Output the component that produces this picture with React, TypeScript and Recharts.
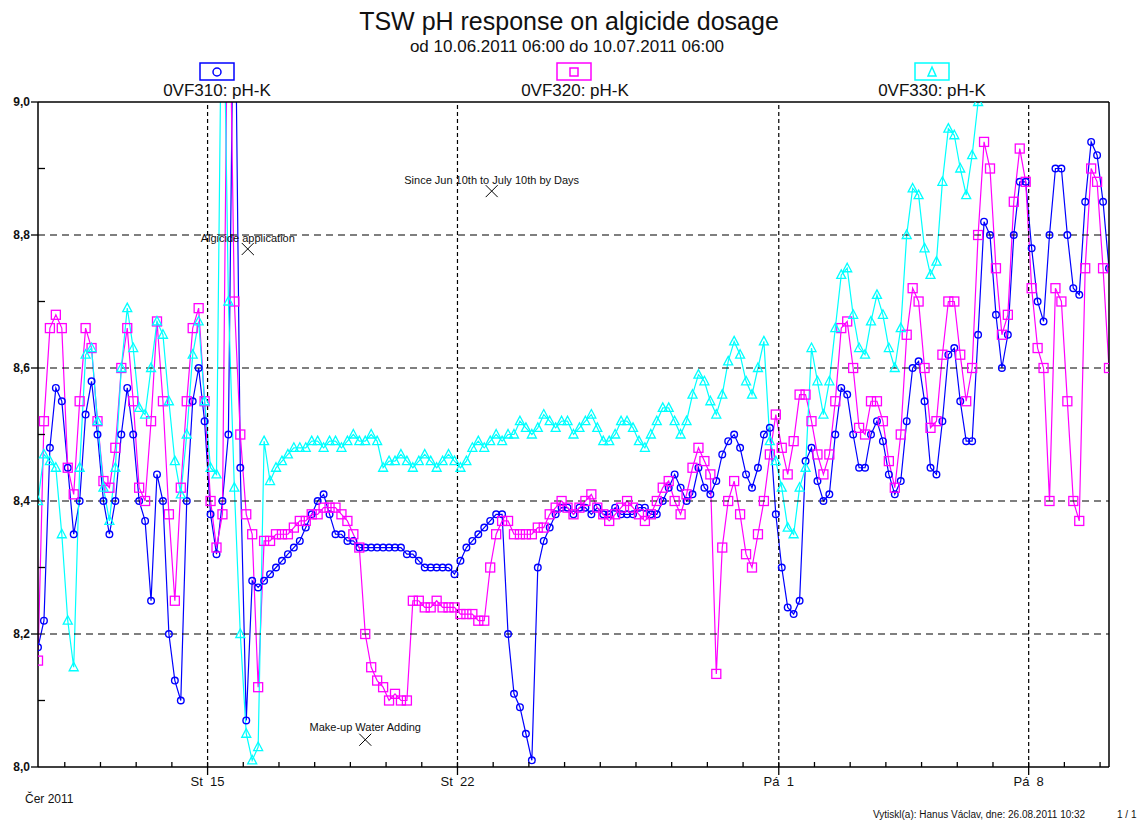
import React from "react";
import { LineChart, Line, XAxis, YAxis, ReferenceLine, ReferenceDot } from "recharts";

// samples every 4 hours from 10.06.2011 06:00 (hour 0) to 10.07.2011 06:00 (hour 720)
const blueSeries = [
  8.18, 8.22, 8.48, 8.57, 8.55, 8.45, 8.35, 8.40, 8.53, 8.58,
  8.50, 8.40, 8.35, 8.40, 8.50, 8.57, 8.50, 8.40, 8.37, 8.25,
  8.44, 8.40, 8.20, 8.13, 8.10, 8.40, 8.55, 8.60, 8.52, 8.38,
  8.32, 8.40, 8.50, 9.30, 8.45, 8.07, 8.28, 8.27, 8.28, 8.29,
  8.30, 8.31, 8.32, 8.33, 8.34, 8.36, 8.38, 8.40, 8.41, 8.38,
  8.35, 8.35, 8.34, 8.34, 8.33, 8.33, 8.33, 8.33, 8.33, 8.33,
  8.33, 8.33, 8.32, 8.32, 8.31, 8.30, 8.30, 8.30, 8.30, 8.30,
  8.29, 8.31, 8.33, 8.34, 8.35, 8.36, 8.37, 8.38, 8.38, 8.20,
  8.11, 8.09, 8.05, 8.01, 8.30, 8.34, 8.36, 8.38, 8.39, 8.39,
  8.38, 8.39, 8.39, 8.38, 8.39, 8.38, 8.38, 8.39, 8.38, 8.38,
  8.38, 8.39, 8.39, 8.38, 8.38, 8.40, 8.42, 8.44, 8.42, 8.40,
  8.41, 8.45, 8.42, 8.41, 8.43, 8.47, 8.49, 8.50, 8.48, 8.44,
  8.42, 8.45, 8.50, 8.51, 8.38, 8.30, 8.24, 8.23, 8.25, 8.46,
  8.48, 8.43, 8.40, 8.41, 8.50, 8.57, 8.56, 8.50, 8.45, 8.45,
  8.50, 8.52, 8.49, 8.44, 8.41, 8.43, 8.52, 8.60, 8.61, 8.55,
  8.45, 8.44, 8.52, 8.62, 8.63, 8.55, 8.49, 8.49, 8.65, 8.82,
  8.80, 8.68, 8.60, 8.65, 8.80, 8.88, 8.88, 8.78, 8.70, 8.67,
  8.80, 8.90, 8.90, 8.80, 8.72, 8.71, 8.85, 8.94, 8.92, 8.85,
  8.75,
];

const magentaSeries = [
  8.16, 8.52, 8.66, 8.68, 8.66, 8.45, 8.41, 8.55, 8.66, 8.63,
  8.52, 8.43, 8.42, 8.48, 8.60, 8.66, 8.55, 8.42, 8.40, 8.52,
  8.67, 8.55, 8.38, 8.25, 8.42, 8.55, 8.66, 8.69, 8.55, 8.40,
  8.33, 8.38, 9.30, 8.70, 8.50, 8.38, 8.35, 8.12, 8.34, 8.34,
  8.35, 8.35, 8.35, 8.36, 8.37, 8.37, 8.38, 8.38, 8.39, 8.39,
  8.39, 8.38, 8.37, 8.35, 8.33, 8.20, 8.15, 8.13, 8.12, 8.10,
  8.11, 8.10, 8.10, 8.25, 8.25, 8.24, 8.24, 8.25, 8.24, 8.24,
  8.24, 8.23, 8.23, 8.23, 8.22, 8.22, 8.30, 8.35, 8.37, 8.37,
  8.35, 8.35, 8.35, 8.35, 8.36, 8.36, 8.38, 8.39, 8.40, 8.39,
  8.38, 8.39, 8.40, 8.41, 8.39, 8.38, 8.37, 8.38, 8.39, 8.40,
  8.39, 8.38, 8.37, 8.38, 8.40, 8.42, 8.43, 8.40, 8.38, 8.41,
  8.45, 8.48, 8.46, 8.44, 8.14, 8.33, 8.40, 8.43, 8.38, 8.32,
  8.30, 8.35, 8.40, 8.47, 8.53, 8.48, 8.44, 8.49, 8.56, 8.56,
  8.52, 8.47, 8.44, 8.47, 8.55, 8.66, 8.67, 8.60, 8.51, 8.50,
  8.55, 8.55, 8.52, 8.46, 8.42, 8.50, 8.65, 8.72, 8.70, 8.60,
  8.51, 8.52, 8.62, 8.70, 8.70, 8.62, 8.55, 8.60, 8.80, 8.94,
  8.90, 8.75, 8.65, 8.68, 8.85, 8.93, 8.88, 8.72, 8.63, 8.60,
  8.40, 8.72, 8.70, 8.55, 8.40, 8.37, 8.75, 8.90, 8.88, 8.75,
  8.60,
];

// off scale (above 9,0) at the end
const cyanSeries: (number | null)[] = [
  8.40, 8.47, 8.46, 8.45, 8.35, 8.22, 8.15, 8.45, 8.62, 8.63,
  8.52, 8.42, 8.37, 8.45, 8.60, 8.69, 8.63, 8.54, 8.53, 8.60,
  8.67, 8.65, 8.55, 8.46, 8.41, 8.50, 8.62, 8.67, 8.55, 8.45,
  8.44, 9.30, 8.70, 8.42, 8.20, 8.05, 8.01, 8.03, 8.49, 8.43,
  8.45, 8.46, 8.47, 8.48, 8.48, 8.48, 8.49, 8.49, 8.48, 8.49,
  8.49, 8.48, 8.49, 8.50, 8.49, 8.49, 8.50, 8.49, 8.45, 8.46,
  8.46, 8.47, 8.46, 8.45, 8.46, 8.47, 8.46, 8.45, 8.46, 8.47,
  8.46, 8.45, 8.46, 8.48, 8.49, 8.48, 8.49, 8.50, 8.49, 8.50,
  8.50, 8.52, 8.51, 8.50, 8.51, 8.53, 8.52, 8.51, 8.52, 8.52,
  8.50, 8.51, 8.52, 8.53, 8.51, 8.49, 8.49, 8.50, 8.52, 8.52,
  8.51, 8.49, 8.48, 8.50, 8.52, 8.54, 8.54, 8.52, 8.50, 8.52,
  8.56, 8.59, 8.58, 8.55, 8.53, 8.56, 8.61, 8.64, 8.62, 8.58,
  8.56, 8.60, 8.64, 8.49, 8.46, 8.42, 8.36, 8.35, 8.42, 8.45,
  8.63, 8.58, 8.53, 8.58, 8.66, 8.74, 8.75, 8.68, 8.63, 8.62,
  8.67, 8.71, 8.68, 8.63, 8.60, 8.66, 8.80, 8.87, 8.86, 8.78,
  8.74, 8.76, 8.88, 8.96, 8.95, 8.90, 8.86, 8.92, 9.00, 9.08,
  null, null, null, null, null, null, null, null, null, null,
  null, null, null, null, null, null, null, null, null, null,
  null,
];

// midnight of each day, in hours from the start
const dayTicks = [
  18, 42, 66, 90, 114, 138, 162, 186, 210, 234, 258, 282, 306, 330, 354,
  378, 402, 426, 450, 474, 498, 522, 546, 570, 594, 618, 642, 666, 690, 714,
];
const weekLabels: Record<number, string> = { 114: "St  15", 282: "St  22", 498: "Pá  1", 666: "Pá  8" };
const weekTicks = [114, 282, 498, 666];

const yTicks = [8.0, 8.1, 8.2, 8.3, 8.4, 8.5, 8.6, 8.7, 8.8, 8.9, 9.0];
const yGrid = [8.2, 8.4, 8.6, 8.8];

const annotations = [
  { label: "Algicide application", h: 141, v: 8.779, dy: -7 },
  { label: "Since Jun 10th to July 10th by Days", h: 305, v: 8.866, dy: -7 },
  { label: "Make-up Water Adding", h: 220, v: 8.041, dy: -9 },
];

const BLUE = "#0000ff";
const MAGENTA = "#ff00ff";
const CYAN = "#00ffff";
const FONT = "'Liberation Sans', Arial, sans-serif";

const data = blueSeries.map((b, i) => ({
  h: i * 4,
  blue: b,
  magenta: magentaSeries[i],
  cyan: cyanSeries[i],
}));

function ok(p: any) {
  return p.cx != null && p.cy != null && !Number.isNaN(p.cx) && !Number.isNaN(p.cy);
}

const circleDot = (p: any) =>
  ok(p) ? (
    <circle key={`c${p.index}`} cx={p.cx} cy={p.cy} r={3.3} fill="none" stroke={BLUE} strokeWidth={1.4} />
  ) : (
    <g key={`c${p.index}`} />
  );

const squareDot = (p: any) =>
  ok(p) ? (
    <rect key={`s${p.index}`} x={p.cx - 4.5} y={p.cy - 4.5} width={9} height={9} fill="none" stroke={MAGENTA} strokeWidth={1.3} />
  ) : (
    <g key={`s${p.index}`} />
  );

const triangleDot = (p: any) =>
  ok(p) ? (
    <path
      key={`t${p.index}`}
      d={`M${p.cx},${p.cy - 5}L${p.cx + 4.5},${p.cy + 3.5}L${p.cx - 4.5},${p.cy + 3.5}Z`}
      fill="none"
      stroke={CYAN}
      strokeWidth={1.3}
    />
  ) : (
    <g key={`t${p.index}`} />
  );

function XTick({ x, y, payload }: any) {
  const label = weekLabels[payload.value];
  return (
    <g>
      <line x1={x} x2={x} y1={y} y2={y - 5} stroke="#000" strokeWidth={1.3} />
      {label && <line x1={x} x2={x} y1={y} y2={y + 8} stroke="#000" strokeWidth={1.3} />}
      {label && (
        <text x={x} y={y + 19} textAnchor="middle" fontSize={13} fontFamily={FONT} fill="#111" style={{ whiteSpace: "pre" }}>
          {label}
        </text>
      )}
    </g>
  );
}

function YTick({ x, y, payload }: any) {
  const v = payload.value as number;
  const major = Math.round(v * 10) % 2 === 0;
  return (
    <g>
      {major ? (
        <line x1={x - 7} x2={x} y1={y} y2={y} stroke="#000" strokeWidth={1.3} />
      ) : (
        <line x1={x} x2={x + 7} y1={y} y2={y} stroke="#000" strokeWidth={1.3} />
      )}
      {major && (
        <text x={x - 8} y={y + 4} textAnchor="end" fontSize={12} fontWeight="bold" fontFamily={FONT} fill="#111">
          {v.toFixed(1).replace(".", ",")}
        </text>
      )}
    </g>
  );
}

function Marker({ cx, cy, label, dy }: any) {
  return (
    <g>
      <path d={`M${cx - 6},${cy - 6}L${cx + 6},${cy + 6}M${cx + 6},${cy - 6}L${cx - 6},${cy + 6}`} stroke="#000" strokeWidth={1} />
      <text x={cx} y={cy + dy} textAnchor="middle" fontSize={11} fontFamily={FONT} fill="#111">
        {label}
      </text>
    </g>
  );
}

export default function App() {
  return (
    <div style={{ position: "absolute", left: 0, top: 0, width: 1143, height: 821, background: "#fff" }}>
      <LineChart width={1143} height={821} data={data} margin={{ top: 102, right: 34, left: 0, bottom: 24 }}>
        <XAxis
          type="number"
          dataKey="h"
          domain={[0, 720]}
          ticks={dayTicks}
          interval={0}
          tick={<XTick />}
          tickLine={false}
          tickSize={0}
          tickMargin={0}
          height={30}
          axisLine={{ stroke: "#000", strokeWidth: 1.5 }}
          allowDataOverflow
        />
        <YAxis
          type="number"
          domain={[8, 9]}
          ticks={yTicks}
          interval={0}
          tick={<YTick />}
          tickLine={false}
          tickSize={0}
          tickMargin={0}
          width={38}
          axisLine={{ stroke: "#000", strokeWidth: 1.5 }}
          allowDataOverflow
        />
        <Line type="linear" dataKey="blue" stroke={BLUE} strokeWidth={1.2} dot={circleDot} activeDot={false} isAnimationActive={false} />
        <Line type="linear" dataKey="magenta" stroke={MAGENTA} strokeWidth={1.2} dot={squareDot} activeDot={false} isAnimationActive={false} />
        <Line type="linear" dataKey="cyan" stroke={CYAN} strokeWidth={1.2} dot={triangleDot} activeDot={false} isAnimationActive={false} />
        {yGrid.map((v) => (
          <ReferenceLine key={`gy${v}`} y={v} stroke="#000" strokeWidth={1.2} strokeDasharray="7 5" />
        ))}
        {weekTicks.map((h) => (
          <ReferenceLine key={`gx${h}`} x={h} stroke="#000" strokeWidth={1.2} strokeDasharray="4 3" />
        ))}
        <ReferenceLine y={9} stroke="#000" strokeWidth={1.5} />
        <ReferenceLine x={720} stroke="#000" strokeWidth={1.5} />
        {annotations.map((a) => (
          <ReferenceDot
            key={a.label}
            x={a.h}
            y={a.v}
            r={6}
            shape={(p: any) => <Marker cx={p.cx} cy={p.cy} label={a.label} dy={a.dy} />}
          />
        ))}
      </LineChart>
      <svg width={1143} height={821} style={{ position: "absolute", left: 0, top: 0, pointerEvents: "none" }} fontFamily={FONT}>
        <text x={569} y={30} textAnchor="middle" fontSize={25} fill="#111">
          TSW pH response on algicide dosage
        </text>
        <text x={567} y={52} textAnchor="middle" fontSize={17} fill="#111">
          od 10.06.2011 06:00 do 10.07.2011 06:00
        </text>
        <rect x={200} y={63} width={34} height={17} fill="none" stroke={BLUE} strokeWidth={1.5} />
        <circle cx={217} cy={72} r={4} fill="none" stroke={BLUE} strokeWidth={1.5} />
        <text x={217} y={96} textAnchor="middle" fontSize={17} fill="#111">0VF310: pH-K</text>
        <rect x={557} y={63} width={34} height={17} fill="none" stroke={MAGENTA} strokeWidth={1.5} />
        <rect x={570} y={68} width={8} height={8} fill="none" stroke={MAGENTA} strokeWidth={1.5} />
        <text x={575} y={96} textAnchor="middle" fontSize={17} fill="#111">0VF320: pH-K</text>
        <rect x={915} y={63} width={34} height={17} fill="none" stroke={CYAN} strokeWidth={1.5} />
        <path d="M932,67L936,76L928,76Z" fill="none" stroke={CYAN} strokeWidth={1.5} />
        <text x={932} y={96} textAnchor="middle" fontSize={17} fill="#111">0VF330: pH-K</text>
        <text x={25} y={803} fontSize={12} fill="#111">Čer 2011</text>
        <text x={873} y={818} fontSize={10} fill="#111">Vytiskl(a): Hanus Václav, dne: 26.08.2011 10:32</text>
        <text x={1117} y={818} fontSize={10} fill="#111">1 / 1</text>
      </svg>
    </div>
  );
}
